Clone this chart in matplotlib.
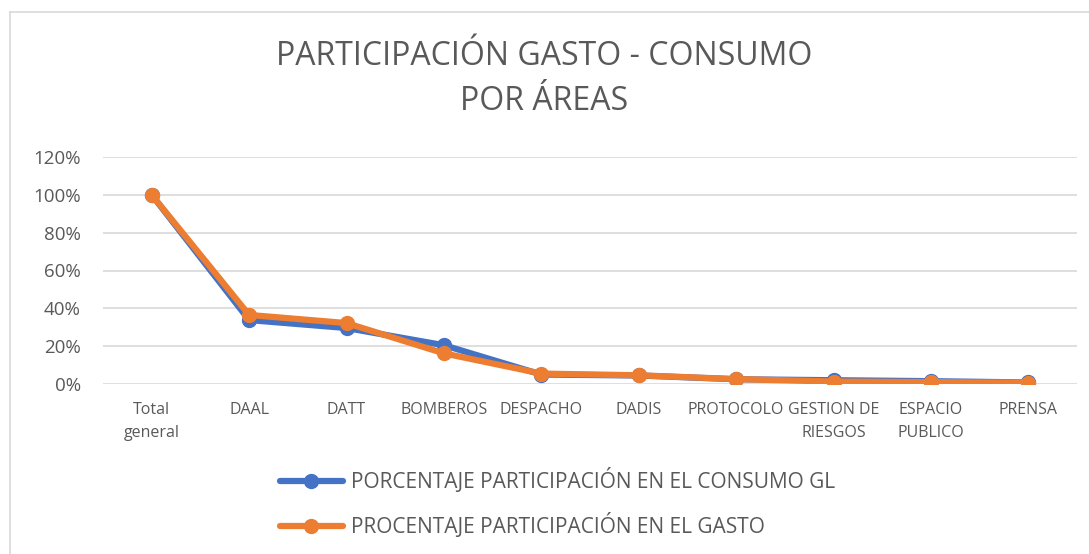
import matplotlib
matplotlib.use("Agg")
import matplotlib.pyplot as plt
from matplotlib.ticker import FuncFormatter, MultipleLocator
from matplotlib.lines import Line2D

categories = ["Total\ngeneral", "DAAL", "DATT", "BOMBEROS", "DESPACHO", "DADIS",
              "PROTOCOLO", "GESTION DE\nRIESGOS", "ESPACIO\nPUBLICO", "PRENSA"]
consumo = [1.00, 0.338, 0.296, 0.205, 0.050, 0.045, 0.025, 0.020, 0.015, 0.008]
gasto = [1.00, 0.365, 0.322, 0.162, 0.055, 0.046, 0.026, 0.013, 0.010, 0.007]
label_consumo = "PORCENTAJE PARTICIPACIÓN EN EL CONSUMO GL"
label_gasto = "PROCENTAJE PARTICIPACIÓN EN EL GASTO"
title = "PARTICIPACIÓN GASTO - CONSUMO\nPOR ÁREAS"

plt.rcParams['font.family'] = ['Open Sans', 'DejaVu Sans']
txt = "#595959"
W, H = 1089, 554

fig = plt.figure(figsize=(W / 100, H / 100), dpi=100)
# chart border (left and top visible)
fig.add_artist(Line2D([10 / W, 10 / W], [0, 1 - 12 / H], transform=fig.transFigure,
                      color="#d9d9d9", linewidth=1.2))
fig.add_artist(Line2D([10 / W, 1], [1 - 12 / H, 1 - 12 / H], transform=fig.transFigure,
                      color="#d9d9d9", linewidth=1.2))

ax = fig.add_axes([103 / W, 1 - 384 / H, (1077 - 103) / W, (384 - 157) / H])

x = list(range(len(categories)))
ax.plot(x, consumo, color="#4472c4", linewidth=4.5, marker="o", markersize=10,
        label=label_consumo, solid_capstyle="round")
ax.plot(x, gasto, color="#ed7d31", linewidth=4.5, marker="o", markersize=10,
        label=label_gasto, solid_capstyle="round")

ax.set_xlim(-0.5, len(categories) - 0.5)
ax.set_ylim(0, 1.2)
ax.yaxis.set_major_locator(MultipleLocator(0.2))
ax.yaxis.set_major_formatter(FuncFormatter(lambda v, p: f"{v*100:.0f}%"))
ax.set_xticks(x)
ax.set_xticklabels(categories, fontsize=11.5, color=txt, linespacing=1.55)
ax.tick_params(axis="y", labelsize=13.5, colors=txt, length=0, pad=16)
ax.tick_params(axis="x", length=0, pad=13)
ax.grid(axis="y", color="#d9d9d9", linewidth=1.2)
ax.set_axisbelow(True)
for s in ax.spines.values():
    s.set_visible(False)

fig.text(0.5, 1 - 79 / H, title, ha="center", va="center", fontsize=23,
         color=txt, linespacing=1.45)

fig.legend(loc="center left", bbox_to_anchor=(280 / W, 1 - 503 / H), ncol=1,
           frameon=False, fontsize=15, labelcolor=txt, handlelength=3.0,
           handletextpad=0.4, labelspacing=0.95, borderpad=0, borderaxespad=0)

fig.savefig("out.png", dpi=100)
